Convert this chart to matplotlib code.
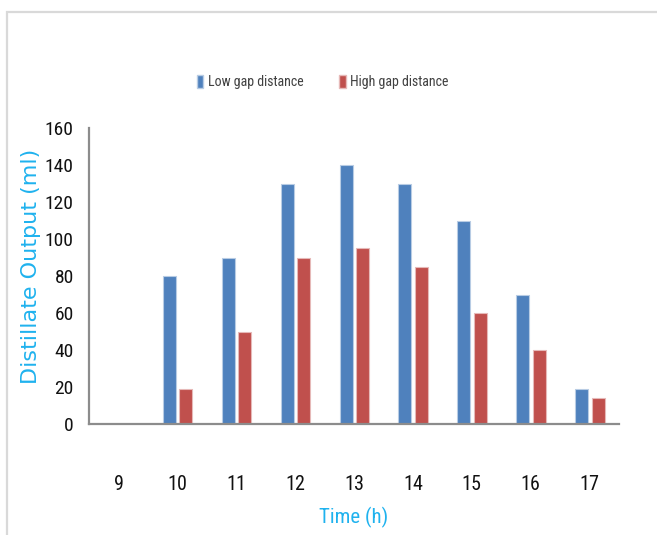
import matplotlib
matplotlib.use("Agg")
import matplotlib.pyplot as plt
import numpy as np
from matplotlib import font_manager
from matplotlib.patches import Rectangle, Patch

hours = ["9", "10", "11", "12", "13", "14", "15", "16", "17"]
low_gap = [0, 80, 90, 130, 140, 130, 110, 70, 19]
high_gap = [0, 19, 50, 90, 95, 85, 60, 40, 14]
y_ticks = [0, 20, 40, 60, 80, 100, 120, 140, 160]

names = {f.name for f in font_manager.fontManager.ttflist}
narrow = "DejaVu Sans"
for cand in ["Liberation Sans Narrow", "Roboto Condensed", "Open Sans Condensed", "Liberation Sans"]:
    if cand in names:
        narrow = cand
        break

BLUE = "#4F81BD"
RED = "#C0504D"
CYAN = "#1FB2EE"
AXIS = "#8C8C8C"

fig = plt.figure(figsize=(6.57, 5.35), dpi=100)
fig.patch.set_facecolor("white")

# light chart-area border
fig.add_artist(Rectangle((7 / 657, -0.05), 1.0, 1 - 12 / 535 + 0.05,
                         transform=fig.transFigure, fill=False,
                         edgecolor="#D9D9D9", linewidth=1.6))

ax = fig.add_axes([89 / 657, 1 - 424 / 535, 530 / 657, 296 / 535])
x = np.arange(len(hours))
w = 0.22
ax.bar(x - 0.135, low_gap, width=w, color=BLUE, edgecolor="#B8CCE4", linewidth=0.8,
       label="Low gap distance")
ax.bar(x + 0.145, high_gap, width=w, color=RED, edgecolor="#E6B9B8", linewidth=0.8,
       label="High gap distance")

ax.set_xlim(-0.5, len(hours) - 0.5)
ax.set_ylim(0, 160)
ax.set_xticks(x)
ax.set_xticklabels(hours, fontfamily=narrow, fontsize=14.5, color="#111111")
ax.set_yticks(y_ticks)
ax.set_yticklabels([str(v) for v in y_ticks], fontfamily=narrow, fontsize=14, color="#111111")
ax.tick_params(axis="both", length=0)
ax.tick_params(axis="x", pad=37)
ax.tick_params(axis="y", pad=11)

for s in ["top", "right"]:
    ax.spines[s].set_visible(False)
for s in ["left", "bottom"]:
    ax.spines[s].set_color(AXIS)
    ax.spines[s].set_linewidth(1.6)

fig.text(31 / 657, 1 - 266 / 535, "Distillate Output (ml)", rotation=90,
         ha="center", va="center", color=CYAN, fontsize=16, fontfamily="DejaVu Sans")
fig.text(354 / 657, 1 - 517 / 535, "Time (h)", ha="center", va="center",
         color=CYAN, fontsize=15, fontfamily=narrow)

handles = [Patch(facecolor=BLUE, edgecolor="#B8CCE4"),
           Patch(facecolor=RED, edgecolor="#E6B9B8")]
fig.legend(handles, ["Low gap distance", "High gap distance"], loc="center left",
           bbox_to_anchor=(184 / 657, 1 - 82 / 535), ncol=2, frameon=False,
           prop={"family": narrow, "size": 10}, labelcolor="#404040",
           handlelength=0.45, handleheight=1.1, handletextpad=0.35, columnspacing=2.6)

fig.savefig("out.png", dpi=100, facecolor="white")
